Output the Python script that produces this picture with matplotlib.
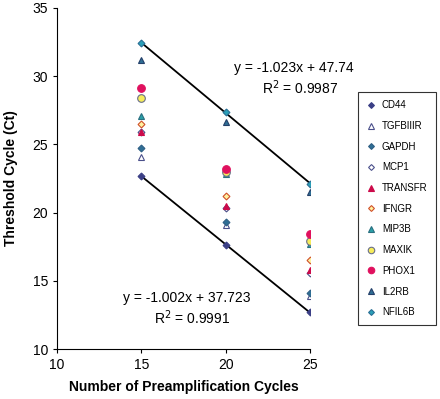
import numpy as np
import matplotlib
matplotlib.use("Agg")
import matplotlib.pyplot as plt

plt.rcParams['font.family'] = ['Liberation Sans', 'DejaVu Sans']

# preamplification cycles
cycles = [15, 20, 25]

# Ct values
cd44 = [22.7, 17.6, 12.7]
tgfbiiir = [24.1, 19.1, 13.9]
gapdh = [24.7, 19.3, 14.1]
mcp1 = [25.9, 20.3, 15.6]
transfr = [25.9, 20.5, 15.8]
ifngr = [26.5, 21.2, 16.5]
mip3b = [27.1, 22.8, 17.7]
maxik = [28.4, 23.0, 17.9]
phox1 = [29.1, 23.2, 18.4]
il2rb = [31.2, 26.6, 21.5]
nfil6b = [32.4, 27.4, 22.1]

genes = ['CD44', 'TGFBIIIR', 'GAPDH', 'MCP1', 'TRANSFR', 'IFNGR',
         'MIP3B', 'MAXIK', 'PHOX1', 'IL2RB', 'NFIL6B']
values = [cd44, tgfbiiir, gapdh, mcp1, transfr, ifngr,
          mip3b, maxik, phox1, il2rb, nfil6b]

# marker, face, edge, size
styles = [
    ('D', '#3b3f86', '#3b3f86', 3.5),
    ('^', 'white', '#4a4f8a', 4.5),
    ('D', '#2f6f95', '#2f5f85', 3.5),
    ('D', 'white', '#4a4f8a', 3.5),
    ('^', '#cc0a4a', '#cc0a4a', 4.5),
    ('D', '#fff2a0', '#d0502a', 3.5),
    ('^', '#2aa0a8', '#2a6f80', 5),
    ('o', '#f6ec5a', '#6a6f8a', 5.5),
    ('o', '#e0105e', '#e0105e', 5.5),
    ('^', '#2f6f95', '#24406a', 5),
    ('D', '#2aa0b8', '#2a6f95', 3.5),
]

W, H = 440, 399
fig = plt.figure(figsize=(W / 100, H / 100), dpi=100)
ax = fig.add_axes([0.1295, 0.1253, 0.575, 0.855])

for name, vals, (m, fc, ec, s) in zip(genes, values, styles):
    ax.plot(cycles, vals, linestyle='none', marker=m, markersize=s,
            markerfacecolor=fc, markeredgecolor=ec, markeredgewidth=0.8,
            label=name)

# trend lines through highest and lowest genes
xs = np.array(cycles)
for vals in (nfil6b, cd44):
    k, b = np.polyfit(xs, vals, 1)
    ax.plot(xs, k * xs + b, color='black', linewidth=1.3, zorder=1)


def px_text(x, y, s):
    fig.text(x / W, 1 - y / H, s, fontsize=10, va='center')


px_text(234, 68, 'y = -1.023x + 47.74')
px_text(262, 88, 'R$^2$ = 0.9987')
px_text(123, 298, 'y = -1.002x + 37.723')
px_text(154, 318, 'R$^2$ = 0.9991')

ax.set_xlim(10, 25)
ax.set_ylim(10, 35)
ax.set_xticks([10, 15, 20, 25])
ax.set_yticks([10, 15, 20, 25, 30, 35])
ax.spines['top'].set_visible(False)
ax.spines['right'].set_visible(False)
ax.tick_params(direction='out', length=3, labelsize=10)
ax.set_xlabel('Number of Preamplification Cycles', fontsize=10,
              fontweight='bold', labelpad=6)
ax.set_ylabel('Threshold Cycle (Ct)', fontsize=10, fontweight='bold',
              labelpad=10)

leg = ax.legend(loc='upper left', bbox_to_anchor=(358 / W, 1 - 92 / H),
                bbox_transform=fig.transFigure, fontsize=7,
                frameon=True, fancybox=False, edgecolor='black',
                labelspacing=1.1, handletextpad=0.6, borderpad=0.85,
                handlelength=1.0, markerscale=0.85, borderaxespad=0)
leg.get_frame().set_linewidth(0.8)

fig.savefig('out.png', dpi=100)
